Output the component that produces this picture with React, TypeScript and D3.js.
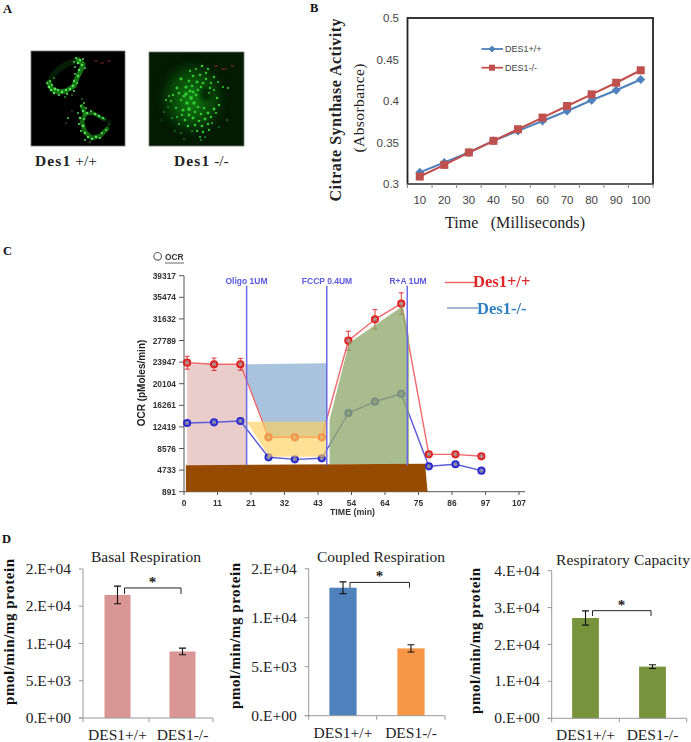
import React from "react";
import * as d3 from "d3";

// ---------- Panel B data ----------
const timeCats = ["10", "20", "30", "40", "50", "60", "70", "80", "90", "100"];
const csWT = [0.314, 0.326, 0.338, 0.352, 0.364, 0.376, 0.388, 0.401, 0.413, 0.426];
const csKO = [0.309, 0.323, 0.338, 0.352, 0.366, 0.38, 0.394, 0.408, 0.422, 0.437];
const csTicks = [0.3, 0.35, 0.4, 0.45, 0.5];
const csTickLabels = ["0.3", "0.35", "0.4", "0.45", "0.5"];

// ---------- Panel C data ----------
const ocrYTicks = [891, 4733, 8576, 12419, 16261, 20104, 23947, 27789, 31632, 35474, 39317];
const ocrXTicks = [0, 11, 21, 32, 43, 54, 64, 75, 86, 97, 107];
const ocrTimes = [1, 9.6, 18, 27, 35.4, 44, 52.5, 61, 69.4, 78.2, 86.7, 95];
const ocrWT = [23840, 23560, 23560, 10570, 10570, 10570, 27750, 31560, 34340, 7540, 7540, 7190];
const ocrWTErr = [1150, 1100, 1050, 350, 350, 350, 1700, 1720, 1930, 350, 350, 300];
const ocrKO = [13110, 13240, 13470, 7010, 6650, 6830, 14890, 16900, 18320, 5410, 5770, 4630];
const ocrKOErr = [250, 250, 250, 250, 250, 250, 250, 250, 250, 250, 250, 250];
const injections = [
  { t: 20, label: "Oligo 1UM", lx: 246.5 },
  { t: 45.6, label: "FCCP 0.4UM", lx: 327 },
  { t: 71.3, label: "R+A 1UM", lx: 408 },
];
const pinkArea: [number, number][] = [[1, 23560], [20, 23560], [20, 5640], [1, 5640]];
const blueArea: [number, number][] = [[20, 23560], [45.6, 23730], [45.6, 10675], [27.2, 10675], [20, 20760]];
const yellowArea: [number, number][] = [[20, 13345], [45.4, 13345], [45.4, 7120], [27.2, 7120]];
const greenArea: [number, number][] = [[46.5, 13646], [52.7, 27340], [69.9, 33930], [71.9, 28410], [71.9, 5820], [46.5, 5820]];
const brownArea: [number, number][] = [[0.6, 5590], [77, 5870], [77.8, 891], [0.6, 891]];

// ---------- Panel D data ----------
const groups = ["DES1+/+", "DES1-/-"];
const basalVals = [16518, 8930];
const basalErr = [1190, 450];
const coupledVals = [13060, 6870];
const coupledErr = [600, 375];
const capacityVals = [27180, 14000];
const capacityErr = [1940, 500];
const basalTicks = [
  [0, "0.E+00"], [5000, "5.E+03"], [10000, "1.E+04"], [15000, "2.E+04"], [20000, "2.E+04"],
] as [number, string][];
const coupledTicks = [
  [0, "0.E+00"], [5000, "5.E+03"], [10000, "1.E+04"], [15000, "2.E+04"],
] as [number, string][];
const capacityTicks = [
  [0, "0.E+00"], [10000, "1.E+04"], [20000, "2.E+04"], [30000, "3.E+04"], [40000, "4.E+04"],
] as [number, string][];

// ---------- Panel A micrograph structure (read by eye, in local image pixels) ----------
const wtStrands: string[] = [
  "M50,12 L55,16 L53,22 L49,30 L46,38 L38,43 L30,44 L24,41 L21,35",
  "M21,35 L25,27 L31,21 L39,16 L50,12",
  "M54,58 L57,66 L54,74 L57,84 L64,90 L72,88 L79,81",
  "M57,66 L65,65 L72,69 L76,71",
  "M79,81 L82,74 L76,71",
];
const wtOpac = [0.75, 0.18, 0.65, 0.65, 0.12];
const wtWidth = [5, 6, 4.5, 3.5, 4];
const wtDots: number[][] = [
  [48, 10, 1.1], [52, 12, 1.2], [55, 11, 1], [46, 14, 1], [50, 15, 1.3], [54, 17, 1.3], [57, 20, 1], [47, 19, 0.9], [51, 22, 1.3],
  [47, 26, 1], [50, 28, 1.3], [46, 33, 1.2], [49, 35, 1], [45, 38, 1.4], [42, 41, 1.3], [46, 43, 1], [38, 42, 1.2], [39, 46, 1.1],
  [34, 44, 1.4], [30, 42, 1.2], [31, 47, 1.1], [26, 45, 1.3], [27, 41, 1.4], [23, 42, 1.3], [21, 39, 1.4], [24, 37, 1.1], [19, 35, 1],
  [22, 33, 1], [26, 30, 0.8], [37, 49, 0.8], [44, 47, 0.7], [54, 51, 0.7], [56, 55, 0.9], [53, 58, 1], [58, 60, 0.9], [55, 63, 1.2],
  [50, 65, 0.9], [59, 65, 1.2], [63, 63, 1], [67, 66, 1.3], [71, 68, 1.2], [75, 70, 1.1], [52, 70, 1.3], [56, 71, 1.1], [51, 76, 1.1],
  [55, 78, 1.4], [53, 83, 1.1], [57, 85, 1.3], [60, 89, 1.3], [57, 92, 0.9], [64, 91, 1.2], [68, 89, 1.3], [72, 90, 1], [74, 85, 1.1],
  [78, 82, 0.9], [40, 70, 0.9], [38, 75, 0.6], [44, 63, 0.6], [81, 76, 0.5], [62, 94, 0.7],
];
const koDots: number[][] = [
  [44, 23, 1.1], [50, 21, 1], [56, 18, 1.2], [62, 21, 1.1], [47, 28, 1.3], [54, 27, 1.2], [60, 25, 1.1], [35, 31, 1.4], [43, 33, 1.3],
  [51, 34, 1.4], [68, 29, 1.2], [31, 40, 1.4], [40, 39, 1.5], [46, 38, 1.3], [52, 42, 1.2], [65, 35, 1.1], [77, 39, 1], [82, 40, 1],
  [23, 48, 0.9], [27, 47, 1.1], [20, 52, 1], [25, 53, 1], [33, 45, 1.3], [40, 46, 1.6], [45, 50, 1.8], [41, 55, 1.7], [48, 55, 1.7],
  [71, 50, 1.2], [64, 40, 1.1], [63, 45, 0.9], [68, 42, 1], [72, 34, 1], [35, 52, 1.1], [30, 60, 1.1], [37, 62, 1.5], [43, 61, 1.8],
  [50, 47, 1.4], [52, 59, 1.3], [38, 48, 1.5], [47, 44, 1.4], [44, 43, 1.5], [43, 67, 1.4], [49, 64, 1.3], [55, 66, 1.3], [62, 65, 1.4],
  [68, 61, 1.4], [73, 57, 1.2], [36, 67, 1.1], [31, 69, 1], [39, 72, 1.3], [47, 70, 1.4], [53, 73, 1.3], [59, 71, 1.4], [65, 69, 1.2],
  [70, 65, 1], [42, 78, 1.2], [49, 77, 1.2], [56, 78, 1.3], [62, 76, 1.2], [33, 76, 0.9], [26, 70, 0.8], [18, 64, 0.7], [51, 83, 1.1],
  [57, 84, 1.2], [63, 82, 1.1], [46, 83, 0.8], [54, 89, 1], [59, 89, 0.8], [35, 85, 0.7], [29, 83, 0.6], [38, 91, 0.6], [55, 92, 0.8],
  [73, 79, 0.7], [81, 72, 0.7], [66, 75, 0.9], [15, 72, 0.5], [22, 59, 0.7], [60, 31, 1.1], [57, 35, 1.3], [55, 39, 1.2], [58, 60, 1.2],
];

// ---------- helpers ----------
const serif = "'Liberation Serif', serif";
const sans = "'Liberation Sans', sans-serif";

function polyPath(pts: [number, number][], x: any, y: any) {
  return d3.line<[number, number]>().x((d) => x(d[0])).y((d) => y(d[1]))(pts)! + "Z";
}

function Micrograph({ x, y, w, h, bg, children }: any) {
  return (
    <g transform={`translate(${x},${y})`}>
      <rect x={0} y={0} width={w} height={h} fill={bg} stroke="#777" strokeWidth={0.8} />
      <g clipPath={`url(#clip${x})`}>{children}</g>
      <clipPath id={`clip${x}`}><rect x={0} y={0} width={w} height={h} /></clipPath>
    </g>
  );
}

function BarChart({ title, titleX, titleY, titleLen, vals, errs, ticks, maxV, colors, xRange, axisX0, axisX1, y0, y1, bracket, ylabX, ylabCy, midTick }: any) {
  const y = d3.scaleLinear().domain([0, maxV]).range([y0, y1]);
  const x = d3.scaleBand<string>().domain(groups).range(xRange).paddingInner(0.6).paddingOuter(0.3);
  const bw = x.bandwidth();
  const c0 = x(groups[0])! + bw / 2;
  const c1 = x(groups[1])! + bw / 2;
  return (
    <g>
      <text x={titleX} y={titleY} fontFamily={serif} fontSize={15.5} textAnchor="middle" fill="#222" textLength={titleLen} lengthAdjust="spacing">{title}</text>
      <text transform={`translate(${ylabX},${ylabCy}) rotate(-90)`} fontFamily={serif} fontWeight="bold" fontSize={15} textAnchor="middle" fill="#111" textLength={146} lengthAdjust="spacing">pmol/min/mg protein</text>
      {groups.map((g, i) => (
        <rect key={g} x={x(g)} y={y(vals[i])} width={bw} height={y0 - y(vals[i])} fill={colors[i]} />
      ))}
      <line x1={axisX0} x2={axisX0} y1={y1} y2={y0} stroke="#999" />
      <line x1={axisX0 - 4} x2={axisX1} y1={y0} y2={y0} stroke="#999" />
      {[axisX0, midTick, axisX1].map((tx: number) => (
        <line key={tx} x1={tx} x2={tx} y1={y0} y2={y0 + 4} stroke="#999" />
      ))}
      {ticks.map(([v, label]: [number, string]) => (
        <g key={v}>
          <line x1={axisX0 - 4} x2={axisX0} y1={y(v)} y2={y(v)} stroke="#999" />
          <text x={axisX0 - 12} y={y(v) + 5} textAnchor="end" fontFamily={serif} fontSize={15.5} fill="#222">{label}</text>
        </g>
      ))}
      {groups.map((g, i) => {
        const cx = x(g)! + bw / 2;
        return (
          <g key={g}>
            <path d={`M${cx - 3.5},${y(vals[i] + errs[i])}H${cx + 3.5}M${cx},${y(vals[i] + errs[i])}V${y(vals[i] - errs[i])}M${cx - 3.5},${y(vals[i] - errs[i])}H${cx + 3.5}`} stroke="#111" strokeWidth={1.1} fill="none" />
            <text x={cx} y={y0 + 22} textAnchor="middle" fontFamily={serif} fontSize={15.5} fill="#222">{g}</text>
          </g>
        );
      })}
      <path d={`M${c0 + 7},${y(bracket[1])}V${y(bracket[0])}H${c1 - 1.5}V${y(bracket[1])}`} stroke="#222" strokeWidth={1} fill="none" />
      <text x={(c0 + c1) / 2 + 2.5} y={y(bracket[0]) - 1} textAnchor="middle" fontFamily={serif} fontWeight="bold" fontSize={15} fill="#222">*</text>
    </g>
  );
}

export default function App() {
  // Panel B
  const bx = d3.scaleBand<string>().domain(timeCats).range([407.5, 653]);
  const bc = (c: string) => bx(c)! + bx.bandwidth() / 2;
  const by = d3.scaleLinear().domain([0.3, 0.5]).range([184, 18]);
  const bLine = d3.line<number>().x((_, i) => bc(timeCats[i])).y((d) => by(d));

  // Panel C
  const cx = d3.scaleLinear().domain([0, 107]).range([184, 519]);
  const cy = d3.scaleLinear().domain([891, 39317]).range([491.7, 275.7]);
  const cLine = d3.line<number>().x((_, i) => cx(ocrTimes[i])).y((d) => cy(d));
  const marker = (color: string, fill: string, vals: number[], errs: number[], showErr: boolean) =>
    vals.map((v, i) => {
      const px = cx(ocrTimes[i]);
      return (
        <g key={i}>
          {showErr && (
            <path d={`M${px - 2.5},${cy(v + errs[i])}H${px + 2.5}M${px},${cy(v + errs[i])}V${cy(v - errs[i])}M${px - 2.5},${cy(v - errs[i])}H${px + 2.5}`} stroke={color} strokeWidth={0.9} fill="none" />
          )}
          <circle cx={px} cy={cy(v)} r={3.1} fill={fill} stroke={color} strokeWidth={2} />
          <circle cx={px} cy={cy(v)} r={1.3} fill="none" stroke="#666" strokeWidth={0.9} />
        </g>
      );
    });

  return (
    <svg width={691} height={742} style={{ position: "absolute", left: 0, top: 0, background: "#fff" }}>
      <defs>
        <filter id="soft" x="-10%" y="-10%" width="120%" height="120%" colorInterpolationFilters="sRGB"><feGaussianBlur stdDeviation={0.5} /></filter>
        <filter id="glow" x="-40%" y="-40%" width="180%" height="180%" colorInterpolationFilters="sRGB"><feGaussianBlur stdDeviation={6} /></filter>
        <filter id="hole" x="-60%" y="-60%" width="220%" height="220%" colorInterpolationFilters="sRGB"><feGaussianBlur stdDeviation={2} /></filter>
        <filter id="soft2" x="-5%" y="-5%" width="110%" height="110%"><feGaussianBlur stdDeviation={0.3} /></filter>
      </defs>

      {/* Panel letters */}
      <g fontFamily={serif} fontWeight="bold" fontSize={12.5} fill="#111">
        <text x={3} y={13}>A</text>
        <text x={310} y={12}>B</text>
        <text x={3} y={255}>C</text>
        <text x={2} y={543}>D</text>
      </g>

      {/* Panel A */}
      <Micrograph x={31} y={51} w={94} h={95} bg="#000">
        <g transform="translate(-3,-3)">
          <g filter="url(#soft)">
            {wtStrands.map((d, i) => (
              <path key={i} d={d} fill="none" stroke="#1e9a1e" strokeOpacity={wtOpac[i]} strokeWidth={wtWidth[i]} strokeLinejoin="round" strokeLinecap="round" />
            ))}
            {wtDots.map((d, i) => <circle key={i} cx={d[0]} cy={d[1]} r={d[2]} fill="#52e052" />)}
          </g>
          <path d="M66,13H70M72,15H76M79,13H83" stroke="#a33" strokeWidth={0.7} fill="none" />
        </g>
      </Micrograph>
      <Micrograph x={149} y={52} w={95} h={94} bg="#031a03">
        <g transform="translate(-3,-4)">
          <g filter="url(#glow)">
            <ellipse cx={46} cy={50} rx={26} ry={30} fill="#0a4f0a" />
            <ellipse cx={45} cy={52} rx={10} ry={14} fill="#117c11" />
          </g>
          <ellipse cx={60} cy={46} rx={6} ry={7} fill="#042a04" filter="url(#hole)" />
          <g filter="url(#soft)">
            {koDots.map((d, i) => <circle key={i} cx={d[0]} cy={d[1]} r={d[2] * 1.05} fill="#2fca2f" />)}
          </g>
          <path d="M68,18H72M75,21H81M85,18H88" stroke="#a33" strokeWidth={0.8} fill="none" />
        </g>
      </Micrograph>
      <g fontFamily={serif} fontSize={15.5} fill="#222">
        <text x={35} y={166}><tspan fontWeight="bold" letterSpacing={1.1}>Des1</tspan> +/+</text>
        <text x={174} y={166}><tspan fontWeight="bold" letterSpacing={1.1}>Des1</tspan> -/-</text>
      </g>

      {/* Panel B */}
      <g>
        <rect x={407.5} y={18} width={245.5} height={166} fill="#fff" stroke="#222" strokeWidth={1.8} />
        <line x1={407.5} x2={653} y1={184} y2={184} stroke="#888" strokeWidth={1.2} />
        {timeCats.map((c) => <line key={c} x1={bx(c)} x2={bx(c)} y1={184} y2={188} stroke="#888" />)}
        <line x1={653} x2={653} y1={184} y2={188} stroke="#888" />
        {csTicks.map((t, i) => (
          <text key={t} x={399} y={by(t) + 4} textAnchor="end" fontFamily={sans} fontSize={11.5} fill="#444">{csTickLabels[i]}</text>
        ))}
        {timeCats.map((c) => (
          <text key={c} x={bc(c)} y={204} textAnchor="middle" fontFamily={sans} fontSize={11.5} fill="#444">{c}</text>
        ))}
        <path d={bLine(csWT)!} fill="none" stroke="#4f81bd" strokeWidth={2.1} />
        {csWT.map((v, i) => (
          <rect key={i} x={bc(timeCats[i]) - 3.2} y={by(v) - 3.2} width={6.4} height={6.4} fill="#4f81bd" transform={`rotate(45 ${bc(timeCats[i])} ${by(v)})`} />
        ))}
        <path d={bLine(csKO)!} fill="none" stroke="#c0504d" strokeWidth={2.1} />
        {csKO.map((v, i) => (
          <rect key={i} x={bc(timeCats[i]) - 4} y={by(v) - 4} width={8} height={8} fill="#c0504d" />
        ))}
        <line x1={481.5} x2={503} y1={49} y2={49} stroke="#4f81bd" strokeWidth={1.8} />
        <rect x={489.5} y={46.5} width={5} height={5} fill="#4f81bd" transform="rotate(45 492 49)" />
        <text x={505} y={52} fontFamily={sans} fontSize={9} fill="#444">DES1+/+</text>
        <line x1={481.5} x2={503} y1={67.7} y2={67.7} stroke="#c0504d" strokeWidth={1.8} />
        <rect x={489} y={64.7} width={6} height={6} fill="#c0504d" />
        <text x={505} y={70.7} fontFamily={sans} fontSize={9} fill="#444">DES1-/-</text>
        <text transform="translate(341,110) rotate(-90)" textAnchor="middle" fontFamily={serif} fontWeight="bold" fontSize={16} fill="#222" textLength={183} lengthAdjust="spacing">Citrate  Synthase Activity</text>
        <text transform="translate(364,108) rotate(-90)" textAnchor="middle" fontFamily={serif} fontSize={15.5} fill="#222" textLength={89} lengthAdjust="spacing">(Absorbance)</text>
        <text x={445} y={228} fontFamily={serif} fontSize={16} fill="#222" xmlSpace="preserve" textLength={140} lengthAdjust="spacing">Time   (Milliseconds)</text>
      </g>

      {/* Panel C */}
      <g filter="url(#soft2)">
        <circle cx={157.7} cy={256.3} r={3.8} fill="#fff" stroke="#666" strokeWidth={1.2} />
        <text x={165} y={259.5} fontFamily={sans} fontWeight="bold" fontSize={8.4} fill="#333">OCR</text>
        <line x1={165} x2={184} y1={263} y2={263} stroke="#666" />

        <path d={polyPath(pinkArea, cx, cy)} fill="#e9cdcb" />
        <path d={polyPath(blueArea, cx, cy)} fill="#a9c2de" />

        <line x1={184} x2={184} y1={275.7} y2={491.7} stroke="#555" strokeWidth={1} />
        <line x1={184} x2={525} y1={491.7} y2={491.7} stroke="#555" strokeWidth={1} />
        {ocrYTicks.map((t) => (
          <g key={t}>
            <line x1={179} x2={184} y1={cy(t)} y2={cy(t)} stroke="#555" />
            <text x={176} y={cy(t) + 3} textAnchor="end" fontFamily={sans} fontWeight="bold" fontSize={8.4} fill="#333">{t}</text>
          </g>
        ))}
        {ocrXTicks.map((t, i) => {
          const px = 184 + i * 33.5;
          return (
            <g key={t}>
              <line x1={px} x2={px} y1={491.7} y2={495} stroke="#555" />
              <text x={px} y={505.5} textAnchor="middle" fontFamily={sans} fontWeight="bold" fontSize={8.4} fill="#333">{t}</text>
            </g>
          );
        })}
        <text x={330} y={515} fontFamily={sans} fontWeight="bold" fontSize={8.8} fill="#333">TIME (min)</text>
        <text transform="translate(145,383) rotate(-90)" textAnchor="middle" fontFamily={sans} fontWeight="bold" fontSize={10} fill="#222">OCR (pMoles/min)</text>

        <path d={cLine(ocrWT)!} fill="none" stroke="#f0686a" strokeWidth={1.4} />
        <path d={cLine(ocrKO)!} fill="none" stroke="#5a5ad8" strokeWidth={1.4} />
        {marker("#e02020", "#f0b0a8", ocrWT, ocrWTErr, true)}
        {marker("#2a2ad0", "#a8a8e0", ocrKO, ocrKOErr, false)}

        <path d={polyPath(yellowArea, cx, cy)} fill="#ffcf5a" fillOpacity={0.65} />
        <path d={polyPath(greenArea, cx, cy)} fill="#8fa96c" fillOpacity={0.78} />
        <path d={polyPath(brownArea, cx, cy)} fill="#964b06" />

        {injections.map((d) => (
          <g key={d.label}>
            <line x1={cx(d.t)} x2={cx(d.t)} y1={285.7} y2={cy(5600)} stroke="#6a6ae8" strokeWidth={1.5} />
            <text x={d.lx} y={283.5} textAnchor="middle" fontFamily={sans} fontWeight="bold" fontSize={8.5} fill="#5a5ae0">{d.label}</text>
          </g>
        ))}

        <line x1={445} x2={475} y1={282.5} y2={282.5} stroke="#f06060" strokeWidth={1.4} />
        <text x={473} y={287} fontFamily={serif} fontWeight="bold" fontSize={16.5} fill="#e02828">Des1+/+</text>
        <line x1={447} x2={478} y1={308} y2={308} stroke="#7a94c0" strokeWidth={1.4} />
        <text x={477} y={313.5} fontFamily={serif} fontWeight="bold" fontSize={16.5} fill="#2f7fc0">Des1-/-</text>
      </g>

      {/* Panel D */}
      <BarChart title="Basal Respiration" titleX={146} titleY={562} titleLen={110} vals={basalVals} errs={basalErr} ticks={basalTicks} maxV={20000}
        colors={["#d99694", "#d99694"]} xRange={[85, 215]} axisX0={83} axisX1={213} midTick={149} y0={718} y1={569}
        bracket={[17455, 16650]} ylabX={14} ylabCy={632} />
      <BarChart title="Coupled Respiration" titleX={381} titleY={562} titleLen={128} vals={coupledVals} errs={coupledErr} ticks={coupledTicks} maxV={15000}
        colors={["#4f81bd", "#f79646"]} xRange={[309, 445]} axisX0={308.7} axisX1={445} midTick={376.7} y0={715.7} y1={568.7}
        bracket={[13600, 13060]} ylabX={240} ylabCy={636} />
      <BarChart title="Respiratory Capacity" titleX={623} titleY={565} titleLen={134} vals={capacityVals} errs={capacityErr} ticks={capacityTicks} maxV={40000}
        colors={["#77933c", "#77933c"]} xRange={[552, 686]} axisX0={551.7} axisX1={686.7} midTick={619.3} y0={718.3} y1={570.7}
        bracket={[29170, 27720]} ylabX={480} ylabCy={641} />
    </svg>
  );
}
